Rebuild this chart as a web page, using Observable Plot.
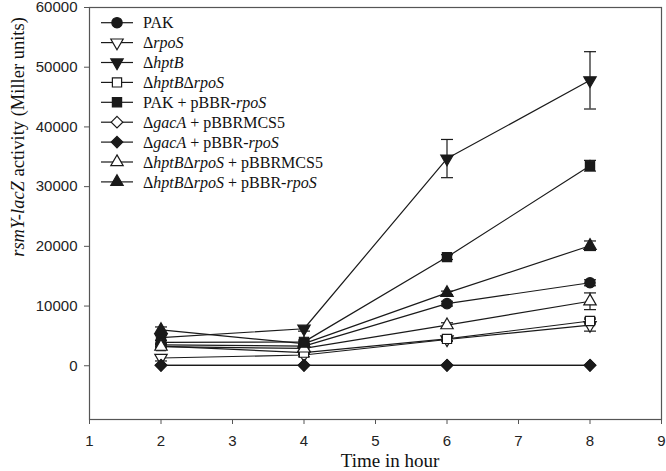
<!DOCTYPE html>
<html>
<head>
<meta charset="utf-8">
<script src="https://cdn.jsdelivr.net/npm/d3@7"></script>
<script src="https://cdn.jsdelivr.net/npm/@observablehq/plot@0.6"></script>
<style>
  body { margin: 0; background: #fff; }
  #chart { width: 666px; height: 471px; }
</style>
</head>
<body>
<div id="chart"></div>
<script>
// ---- data ----
const hours = [2, 4, 6, 8];
const xTicks = [1, 2, 3, 4, 5, 6, 7, 8, 9];
const yTicks = [0, 10000, 20000, 30000, 40000, 50000, 60000];

const seriesKeys = ["PAK", "rpoS", "hptB", "hptBrpoS", "PAKpBBR", "gacAMCS", "gacApBBR", "dblMCS", "dblpBBR"];
// legend labels as [text, italic] parts
const seriesLabels = [
  [["PAK", false]],
  [["Δ", false], ["rpoS", true]],
  [["Δ", false], ["hptB", true]],
  [["Δ", false], ["hptB", true], ["Δ", false], ["rpoS", true]],
  [["PAK + pBBR-", false], ["rpoS", true]],
  [["Δ", false], ["gacA", true], [" + pBBRMCS5", false]],
  [["Δ", false], ["gacA", true], [" + pBBR-", false], ["rpoS", true]],
  [["Δ", false], ["hptB", true], ["Δ", false], ["rpoS", true], [" + pBBRMCS5", false]],
  [["Δ", false], ["hptB", true], ["Δ", false], ["rpoS", true], [" + pBBR-", false], ["rpoS", true]]
];

const valPAK      = [3500, 3300, 10400, 13900];
const valRpoS     = [1300, 1800, 4400, 6800];
const valHptB     = [4700, 6200, 34700, 47800];
const valHptBRpoS = [3300, 2200, 4500, 7500];
const valPAKpBBR  = [3900, 4000, 18200, 33500];
const valGacAMCS  = [80, 80, 80, 80];
const valGacApBBR = [80, 80, 80, 80];
const valDblMCS   = [3200, 2900, 6800, 10800];
const valDblpBBR  = [6000, 3700, 12200, 20100];

const errPAK      = [300, 300, 400, 500];
const errRpoS     = [500, 300, 300, 1000];
const errHptB     = [400, 400, 3200, 4800];
const errHptBRpoS = [300, 300, 300, 500];
const errPAKpBBR  = [300, 300, 400, 900];
const errGacAMCS  = [0, 0, 0, 0];
const errGacApBBR = [0, 0, 0, 0];
const errDblMCS   = [300, 300, 400, 1400];
const errDblpBBR  = [500, 300, 300, 800];

const allVals = [valPAK, valRpoS, valHptB, valHptBRpoS, valPAKpBBR, valGacAMCS, valGacApBBR, valDblMCS, valDblpBBR];
const allErrs = [errPAK, errRpoS, errHptB, errHptBRpoS, errPAKpBBR, errGacAMCS, errGacApBBR, errDblMCS, errDblpBBR];

// ---- symbols ----
const triDown = {
  draw(ctx, size) {
    const y = -Math.sqrt(size / (Math.sqrt(3) * 3));
    ctx.moveTo(0, -y * 2);
    ctx.lineTo(-Math.sqrt(3) * y, y);
    ctx.lineTo(Math.sqrt(3) * y, y);
    ctx.closePath();
  }
};
const capSym = { draw(ctx) { ctx.moveTo(-6, 0); ctx.lineTo(6, 0); } };
const seriesSymbol = [d3.symbolCircle, triDown, triDown, d3.symbolSquare, d3.symbolSquare, d3.symbolDiamond2, d3.symbolDiamond2, d3.symbolTriangle, d3.symbolTriangle];
const seriesFilled = [true, false, true, false, true, false, true, false, true];
const seriesR = [5.2, 4.6, 4.6, 5.2, 5.2, 5.2, 5.2, 4.6, 4.6];

const ink = "#1a1a1a";

const rows = [];
seriesKeys.forEach((k, i) => hours.forEach((h, j) => rows.push({ s: i, x: h, y: allVals[i][j], e: allErrs[i][j] })));
const errRows = rows.filter(d => d.e > 0);

const marks = [
  Plot.frame({ stroke: "#555", strokeWidth: 1.2 }),
  Plot.axisY({ ticks: yTicks, tickSize: 5, tickPadding: 7, tickFormat: d => String(d), label: null, stroke: "#555" }),
  Plot.axisX({ ticks: xTicks, tickSize: 5, tickPadding: 11, tickFormat: d => String(d), label: null, stroke: "#555" })
];
seriesKeys.forEach((k, i) => {
  marks.push(Plot.line(rows.filter(d => d.s === i), { x: "x", y: "y", stroke: ink, strokeWidth: 1.2 }));
});
marks.push(Plot.ruleX(errRows, { x: "x", y1: d => d.y - d.e, y2: d => d.y + d.e, stroke: ink, strokeWidth: 1.2 }));
marks.push(Plot.dot(errRows, { x: "x", y: d => d.y + d.e, symbol: capSym, stroke: ink, strokeWidth: 1.2, r: 5 }));
marks.push(Plot.dot(errRows, { x: "x", y: d => d.y - d.e, symbol: capSym, stroke: ink, strokeWidth: 1.2, r: 5 }));
seriesKeys.forEach((k, i) => {
  marks.push(Plot.dot(rows.filter(d => d.s === i), {
    x: "x", y: "y", r: seriesR[i], symbol: seriesSymbol[i],
    fill: seriesFilled[i] ? ink : "white", stroke: ink, strokeWidth: 1.2
  }));
});

const chart = Plot.plot({
  width: 666,
  height: 471,
  marginLeft: 89,
  marginRight: 5,
  marginTop: 7,
  marginBottom: 52,
  x: { domain: [1, 9] },
  y: { domain: [-9000, 60000] },
  style: { fontFamily: "'Liberation Sans', Arial, sans-serif", fontSize: "15px", color: "#222", background: "white" },
  marks
});
document.getElementById("chart").appendChild(chart);

// ---- titles & legend ----
const svg = d3.select(chart);
const serif = "'Liberation Serif', 'Times New Roman', serif";

svg.append("text").attr("x", 390).attr("y", 467).attr("text-anchor", "middle")
  .attr("font-family", serif).attr("font-size", 19).attr("fill", "#111").text("Time in hour");

const yt = svg.append("text").attr("transform", "translate(24,137) rotate(-90)").attr("text-anchor", "middle")
  .attr("font-family", serif).attr("font-size", 18.5).attr("fill", "#111");
yt.append("tspan").attr("font-style", "italic").text("rsmY-lacZ");
yt.append("tspan").text(" activity (Miller units)");

const lg = svg.append("g").attr("text-anchor", "start");
seriesKeys.forEach((k, i) => {
  const y = 22.7 + i * 19.9;
  const r = seriesR[i];
  lg.append("line").attr("x1", 101).attr("x2", 133).attr("y1", y).attr("y2", y).attr("stroke", ink).attr("stroke-width", 1.2);
  lg.append("path").attr("transform", `translate(117,${y})`)
    .attr("d", d3.symbol().type(seriesSymbol[i]).size(r * r * Math.PI)())
    .attr("fill", seriesFilled[i] ? ink : "white").attr("stroke", ink).attr("stroke-width", 1.2);
  const t = lg.append("text").attr("x", 143).attr("y", y).attr("dy", "0.35em").attr("text-anchor", "start")
    .attr("font-family", serif).attr("font-size", 16).attr("fill", "#111");
  seriesLabels[i].forEach(([txt, it]) => {
    const ts = t.append("tspan").text(txt);
    if (it) ts.attr("font-style", "italic");
  });
});
</script>
</body>
</html>
